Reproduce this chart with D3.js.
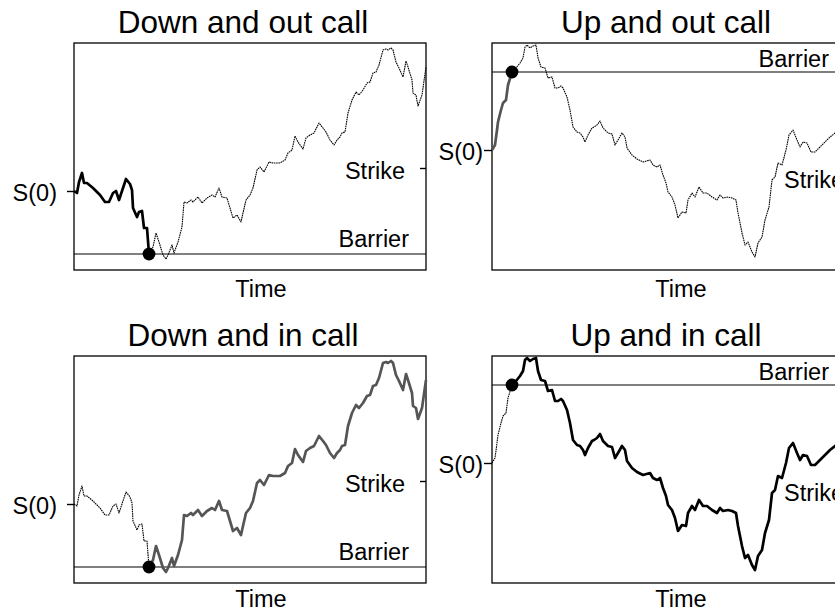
<!DOCTYPE html>
<html><head><meta charset="utf-8">
<script src="https://cdn.jsdelivr.net/npm/d3@7"></script>
<style>
body{margin:0;background:#fff}
svg{display:block}
text{font-family:"Liberation Sans",Arial,Helvetica,sans-serif;fill:#000}
</style>
</head><body>
<svg id="c" width="835" height="611"></svg>
<script>
// ---------- DATA ----------
const titles = ["Down and out call", "Up and out call", "Down and in call", "Up and in call"];
const axisLabelS0 = "S(0)";
const labelStrike = "Strike";
const labelBarrier = "Barrier";
const labelTime = "Time";

const timeDomain = [0, 352];

// Path used for the "down" barrier options
const downDays = [0,3,5,8,10,13,19,26,31,35,39,42,45,49,52,56,58,59,63,65,68,70,73,75,79,82,85,89,92,94,98,100,104,108,110,113,117,119,124,128,133,138,141,145,148,153,156,159,163,167,169,172,176,179,183,186,190,195,199,206,211,214,218,221,224,229,232,236,240,245,249,252,256,260,263,266,268,271,274,278,282,285,289,293,296,299,302,305,309,312,314,317,319,322,325,329,332,334,338,339,342,344,348,352];
const downPrices = [100,99,104.5,109,104,104,101.5,98,94.5,94.5,99,100,95.5,101.5,106,103.5,100.5,91.5,87,89.5,90,81.5,81.5,68.5,72,79,74.5,68,66,68,73,69,74.5,82,94.5,94,95.5,94.5,97,94,96.5,98,97,101.5,97,96.5,91.5,86.5,88,84.5,89,95.5,98,101.5,110.5,112,109.5,114.5,114,114,115.5,119,120.5,127.5,124.5,121,126.5,128,129,134,131.5,129.5,125.5,123,125.5,127,129,129.5,139,145.5,149.5,148,150.5,154,154.5,159,159.5,163,170.5,171,170.5,171.5,170.5,164.5,161.5,157,165,162,155.5,149,148,142.5,148,162];
const downS0 = 100, downStrike = 111.5, downBarrier = 68.5, downHit = 23;
const downPriceDomain = [60.5, 174];

// Path used for the "up" barrier options
const upDays = [0,3,5,6,9,11,14,16,20,24,28,31,33,35,38,41,44,46,49,53,56,60,63,66,69,71,75,78,81,85,88,91,93,96,100,102,105,108,111,116,120,123,126,130,133,135,140,145,151,158,161,165,168,171,174,176,180,183,186,190,194,196,200,203,207,211,215,220,225,228,231,236,240,244,246,250,253,256,260,263,266,270,273,277,280,283,286,290,294,297,301,305,308,311,315,319,323,328,333,338,343,352];
const upPrices = [100,102.5,110,114,120,123.5,125,132.5,139,141,143.5,146,151.5,152.5,151,152,152.5,146,141.5,141,136,136.5,131,131,132,131,126.5,120,111.5,109,108.5,106.5,104,107.5,111,111.5,112.5,114.5,111,108.5,108,102.5,105,108.5,106.5,101,97.5,95.5,94,95,92.5,91.5,92.5,87.5,83.5,79,76.5,72.5,66,69,68.5,75,78.5,76.5,81.5,78.5,78.5,76.5,75,77.5,76,76.5,76,75,68.5,58.5,52.5,54,49,46.5,53.5,56.5,65,71.5,85,86.5,93.5,92.5,100,107.5,110,105,101.5,104,103.5,99,99,101.5,104,106.5,108.5,111];
const upS0 = 100, upStrike = 86.5, upBarrier = 139, upHit = 8;
const upPriceDomain = [40, 153.5];

// ---------- LAYOUT ----------
const W = 352, H = 227;
const panels = [
  {title: titles[0], L: 74,  T: 43,  col: 0, row: 0, kind: "down", pre: "black",  post: "dotted"},
  {title: titles[1], L: 492, T: 43,  col: 1, row: 0, kind: "up",   pre: "gray",   post: "dotted"},
  {title: titles[2], L: 74,  T: 356, col: 0, row: 1, kind: "down", pre: "dotted", post: "gray"},
  {title: titles[3], L: 492, T: 356, col: 1, row: 1, kind: "up",   pre: "dotted", post: "black"}
];
const styles = {
  black:  {stroke: "#000", width: 2.7, dash: null},
  gray:   {stroke: "#555", width: 2.7, dash: null},
  dotted: {stroke: "#000", width: 1.1, dash: "1.6,0.7"}
};

const svg = d3.select("#c");

panels.forEach(p => {
  const down = p.kind === "down";
  const days = down ? downDays : upDays;
  const prices = down ? downPrices : upPrices;
  const s0 = down ? downS0 : upS0;
  const strike = down ? downStrike : upStrike;
  const barrier = down ? downBarrier : upBarrier;
  const hit = down ? downHit : upHit;
  const dom = down ? downPriceDomain : upPriceDomain;

  const x = d3.scaleLinear().domain(timeDomain).range([p.L, p.L + W]);
  const y = d3.scaleLinear().domain(dom).range([p.T + H, p.T]);
  const data = days.map((d, i) => ({t: d, v: prices[i]}));
  const g = svg.append("g");

  // frame
  g.append("rect").attr("x", p.L).attr("y", p.T).attr("width", W).attr("height", H)
    .attr("fill", "none").attr("stroke", "#000").attr("stroke-width", 1.3);

  // barrier line
  g.append("line").attr("x1", x(timeDomain[0])).attr("x2", x(timeDomain[1]))
    .attr("y1", y(barrier)).attr("y2", y(barrier))
    .attr("stroke", "#000").attr("stroke-width", 1.2);

  const line = d3.line().x(d => x(d.t)).y(d => y(d.v));
  const seg = (arr, st) => {
    const s = styles[st];
    g.append("path").datum(arr).attr("d", line)
      .attr("fill", "none").attr("stroke", s.stroke).attr("stroke-width", s.width)
      .attr("stroke-linejoin", "round")
      .attr("stroke-dasharray", s.dash);
  };
  seg(data.slice(hit), p.post);
  seg(data.slice(0, hit + 1), p.pre);

  // hit dot
  g.append("circle").attr("cx", x(data[hit].t)).attr("cy", y(data[hit].v)).attr("r", 6.4).attr("fill", "#000");

  // S(0) axis on left
  const axL = g.append("g").attr("transform", `translate(${p.L},0)`)
    .call(d3.axisLeft(y).tickValues([s0]).tickFormat(() => axisLabelS0)
      .tickSize(p.col === 0 ? 7 : 8).tickPadding(p.col === 0 ? 10 : 1));
  axL.select(".domain").remove();
  axL.selectAll("line").attr("stroke", "#000").attr("stroke-width", 1.4);
  axL.selectAll("text").attr("font-size", 23.5).attr("dy", "0.4em")
    .style("font-family", '"Liberation Sans", Arial, sans-serif');
  axL.attr("font-family", null).attr("font-size", null);

  // Strike axis at right edge, tick pointing inward
  const axR = g.append("g").attr("transform", `translate(${p.L + W},0)`)
    .call(d3.axisLeft(y).tickValues([strike]).tickFormat(() => labelStrike)
      .tickSize(6).tickPadding(15));
  axR.select(".domain").remove();
  axR.selectAll("line").attr("stroke", "#000").attr("stroke-width", 1.4);
  axR.selectAll("text").attr("font-size", 23.5).attr("dy", "0.43em")
    .style("font-family", '"Liberation Sans", Arial, sans-serif');
  if (p.col === 1) {
    axR.selectAll("text").attr("text-anchor", "start").attr("x", 292 - W);
  }
  axR.attr("font-family", null).attr("font-size", null);

  // Barrier label
  g.append("text")
    .attr("x", p.col === 0 ? p.L + W - 17 : p.L + 337)
    .attr("y", y(barrier) - (p.col === 0 ? 7.5 : 5.5))
    .attr("text-anchor", "end").attr("font-size", 23.5).text(labelBarrier);

  // Title
  g.append("text")
    .attr("x", p.L + (p.col === 0 ? 169 : 174))
    .attr("y", p.T - 10.5)
    .attr("text-anchor", "middle").attr("font-size", 31.5).text(p.title);

  // Time label
  g.append("text")
    .attr("x", p.L + (p.col === 0 ? 187 : 189))
    .attr("y", p.T + H + (p.row === 0 ? 26.5 : 23.7))
    .attr("text-anchor", "middle").attr("font-size", 23.5).text(labelTime);
});
</script>
</body></html>
